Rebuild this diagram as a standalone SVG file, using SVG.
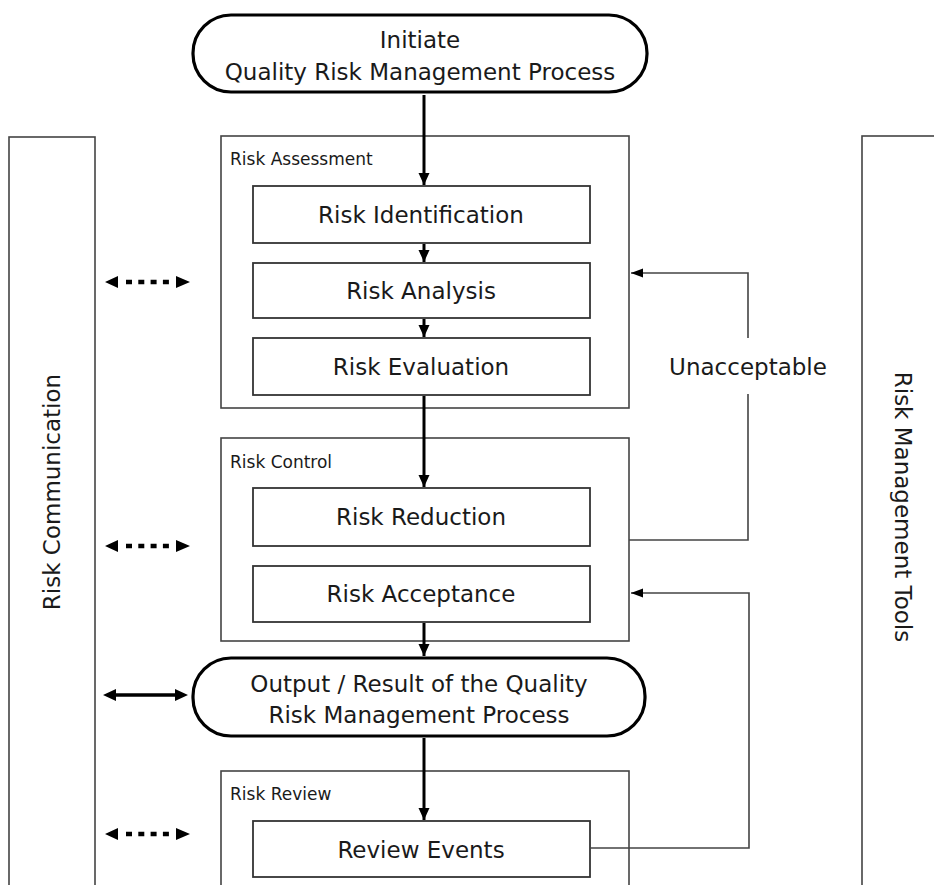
<svg xmlns="http://www.w3.org/2000/svg" width="934" height="885" viewBox="0 0 934 885">
  <defs>
    <style>
      text { font-family: "DejaVu Sans", "Liberation Sans", sans-serif; fill: #1a1a1a; }
      .big { font-size: 23px; text-anchor: middle; }
      .small { font-size: 17px; }
      .frame { fill: #fff; stroke: #444; stroke-width: 1.6; }
      .step { fill: #fff; stroke: #333; stroke-width: 1.8; }
      .term { fill: #fff; stroke: #000; stroke-width: 3.2; }
      .flow { fill: none; stroke: #000; stroke-width: 3; }
      .loop { fill: none; stroke: #444; stroke-width: 1.6; }
      .dots { fill: none; stroke: #000; stroke-width: 4.5; stroke-dasharray: 6 6.3; }
      .solid { fill: none; stroke: #000; stroke-width: 3.5; }
    </style>
    <marker id="head" markerUnits="userSpaceOnUse" markerWidth="12" markerHeight="12" refX="12" refY="6" orient="auto">
      <path d="M0,0.5 L12,6 L0,11.5 z" fill="#000"/>
    </marker>
    <marker id="headThin" markerUnits="userSpaceOnUse" markerWidth="12" markerHeight="10" refX="12" refY="5" orient="auto">
      <path d="M0,0.5 L12,5 L0,9.5 z" fill="#000"/>
    </marker>
  </defs>

  <rect width="934" height="885" fill="#fff"/>

  <!-- side columns -->
  <g id="risk-communication">
    <rect class="frame" x="9" y="137" width="86" height="760"/>
    <text class="big" transform="translate(60,492) rotate(-90)">Risk Communication</text>
  </g>
  <g id="risk-management-tools">
    <rect class="frame" x="862" y="136" width="90" height="760"/>
    <text class="big" transform="translate(895,507) rotate(90)">Risk Management Tools</text>
  </g>

  <!-- stage frames -->
  <g id="risk-assessment">
    <rect class="frame" x="221" y="136" width="408" height="272"/>
    <text class="small" x="230" y="165">Risk Assessment</text>
  </g>
  <g id="risk-control">
    <rect class="frame" x="221" y="438" width="408" height="203"/>
    <text class="small" x="230" y="468">Risk Control</text>
  </g>
  <g id="risk-review">
    <rect class="frame" x="221" y="771" width="408" height="130"/>
    <text class="small" x="230" y="800">Risk Review</text>
  </g>

  <!-- terminators -->
  <g id="initiate">
    <rect class="term" x="193" y="15" width="454" height="77" rx="38" ry="38"/>
    <text class="big" x="420" y="48">Initiate</text>
    <text class="big" x="420" y="80">Quality Risk Management Process</text>
  </g>
  <g id="output">
    <rect class="term" x="193" y="658" width="452" height="78" rx="38" ry="38"/>
    <text class="big" x="419" y="692">Output / Result of the Quality</text>
    <text class="big" x="419" y="723">Risk Management Process</text>
  </g>

  <!-- steps -->
  <g id="risk-identification">
    <rect class="step" x="253" y="186" width="337" height="57"/>
    <text class="big" x="421" y="223">Risk Identification</text>
  </g>
  <g id="risk-analysis">
    <rect class="step" x="253" y="263" width="337" height="55"/>
    <text class="big" x="421" y="299">Risk Analysis</text>
  </g>
  <g id="risk-evaluation">
    <rect class="step" x="253" y="338" width="337" height="57"/>
    <text class="big" x="421" y="375">Risk Evaluation</text>
  </g>
  <g id="risk-reduction">
    <rect class="step" x="253" y="488" width="337" height="58"/>
    <text class="big" x="421" y="525">Risk Reduction</text>
  </g>
  <g id="risk-acceptance">
    <rect class="step" x="253" y="566" width="337" height="56"/>
    <text class="big" x="421" y="602">Risk Acceptance</text>
  </g>
  <g id="review-events">
    <rect class="step" x="253" y="821" width="337" height="56"/>
    <text class="big" x="421" y="858">Review Events</text>
  </g>

  <!-- connectors -->
  <g id="connectors">
    <line class="flow" x1="424" y1="95" x2="424" y2="185" marker-end="url(#head)"/>
    <line class="flow" x1="424" y1="244" x2="424" y2="262" marker-end="url(#head)"/>
    <line class="flow" x1="424" y1="319" x2="424" y2="337" marker-end="url(#head)"/>
    <line class="flow" x1="424" y1="396" x2="424" y2="487" marker-end="url(#head)"/>
    <line class="flow" x1="424" y1="623" x2="424" y2="656" marker-end="url(#head)"/>
    <line class="flow" x1="424" y1="738" x2="424" y2="820" marker-end="url(#head)"/>

    <path class="loop" d="M629,540 H748 V273 H631" marker-end="url(#headThin)"/>
    <path class="loop" d="M590,848 H749 V593 H631" marker-end="url(#headThin)"/>
    <rect x="668" y="338" width="162" height="56" fill="#fff"/>
    <text class="big" x="748" y="375">Unacceptable</text>

    <!-- two-way exchanges with the communication column -->
    <line class="dots" x1="126" y1="282" x2="169" y2="282"/>
    <path d="M105,282 L118,276 L118,288 z M190,282 L176,276 L176,288 z" fill="#000"/>
    <line class="dots" x1="126" y1="546" x2="169" y2="546"/>
    <path d="M105,546 L118,540 L118,552 z M190,546 L176,540 L176,552 z" fill="#000"/>
    <line class="dots" x1="126" y1="834" x2="169" y2="834"/>
    <path d="M105,834 L118,828 L118,840 z M190,834 L176,828 L176,840 z" fill="#000"/>
    <line class="solid" x1="112" y1="695" x2="180" y2="695"/>
    <path d="M103,695 L116,689 L116,701 z M188,695 L175,689 L175,701 z" fill="#000"/>
  </g>
</svg>
